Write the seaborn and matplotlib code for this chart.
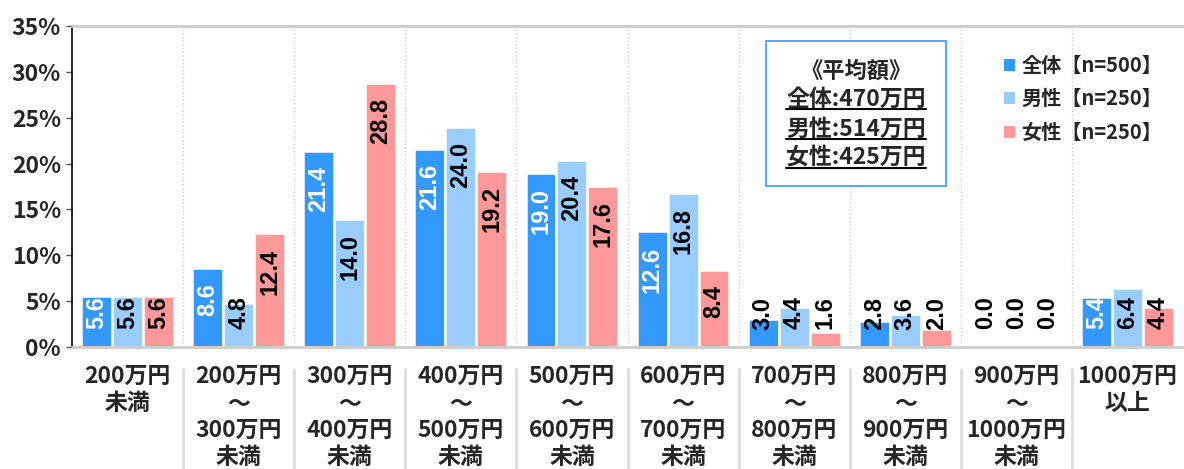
import pandas as pd
import seaborn as sns
import matplotlib.pyplot as plt
from matplotlib.lines import Line2D
from matplotlib.patches import Patch

categories = ['200万円\n未満', '200万円\n～\n300万円\n未満', '300万円\n～\n400万円\n未満',
              '400万円\n～\n500万円\n未満', '500万円\n～\n600万円\n未満', '600万円\n～\n700万円\n未満',
              '700万円\n～\n800万円\n未満', '800万円\n～\n900万円\n未満', '900万円\n～\n1000万円\n未満',
              '1000万円\n以上']
series = ['全体【n=500】', '男性【n=250】', '女性【n=250】']
zentai = [5.6, 8.6, 21.4, 21.6, 19.0, 12.6, 3.0, 2.8, 0.0, 5.4]
dansei = [5.6, 4.8, 14.0, 24.0, 20.4, 16.8, 4.4, 3.6, 0.0, 6.4]
josei = [5.6, 12.4, 28.8, 19.2, 17.6, 8.4, 1.6, 2.0, 0.0, 4.4]
avg_title = '《平均額》'
avg_lines = ['全体:470万円', '男性:514万円', '女性:425万円']
yticks = [0, 5, 10, 15, 20, 25, 30, 35]

colors = ['#3399FF', '#99CCFF', '#FF9999']

df = pd.DataFrame({
    'cat': categories * 3,
    'series': [series[0]] * 10 + [series[1]] * 10 + [series[2]] * 10,
    'value': zentai + dansei + josei,
})

sns.set_style('white')
plt.rcParams['font.family'] = ['Noto Sans CJK JP', 'DejaVu Sans']
num_font = ['Liberation Sans', 'DejaVu Sans']

fig = plt.figure(figsize=(11.84, 4.69), dpi=100)
ax = fig.add_axes([72 / 1184, 1 - 347 / 469, 1 - 72 / 1184 - 1 / 1184, (347 - 26) / 469])

sns.barplot(data=df, x='cat', y='value', hue='series', palette=colors, width=0.835,
            edgecolor='white', linewidth=1.8, saturation=1, legend=False, ax=ax)

ax.set_ylim(0, 35)
ax.set_xlim(-0.5, 9.5)
ax.set_yticks(yticks)
ax.set_yticklabels([f'{t}%' for t in yticks], fontsize=16.5, fontweight='bold')
ax.set_xticks(range(10))
ax.set_xticklabels(categories, fontsize=16.5, fontweight='bold', linespacing=1.22, va='top')
ax.tick_params(axis='x', length=0, pad=13)
ax.tick_params(axis='y', length=4, width=1, color='#555555', left=True, pad=4)
ax.set_xlabel('')
ax.set_ylabel('')

ax.spines['right'].set_visible(False)
ax.spines['left'].set_color('black')
ax.spines['left'].set_linewidth(1.2)
ax.spines['top'].set_color('#cccccc')
ax.spines['top'].set_linewidth(2)
ax.spines['bottom'].set_color('#cccccc')
ax.spines['bottom'].set_linewidth(2)

# dotted separators between categories
for i in range(1, 10):
    ax.axvline(i - 0.5, color='#cccccc', linestyle=':', linewidth=1, zorder=0)
    ax.add_line(Line2D([i - 0.5, i - 0.5], [-0.07, -0.4], transform=ax.get_xaxis_transform(),
                       color='#dddddd', linewidth=2, clip_on=False))

# value labels
for k, cont in enumerate(ax.containers):
    vals = [zentai, dansei, josei][k]
    for bar, v in zip(cont.patches, vals):
        x = bar.get_x() + bar.get_width() / 2
        y = max(v - 1.65, 5.5)
        col = 'white' if (k == 0 and v >= 5) else 'black'
        ax.text(x, y, f'{v:.1f}', rotation=90, ha='center', va='top', fontsize=17,
                family=num_font, fontweight='bold', color=col)

# legend
handles = [Patch(facecolor=c, edgecolor='none') for c in colors]
leg = ax.legend(handles, series, loc='upper left', bbox_to_anchor=(0.832, 0.935), frameon=False,
                prop={'weight': 'bold', 'size': 14.5}, handlelength=0.55, handleheight=0.55,
                handletextpad=0.3, labelspacing=0.62, borderaxespad=0)

# average box
bx0, bx1 = 766 / 1184, 946 / 1184
by0, by1 = 1 - 186 / 469, 1 - 41 / 469
fig.patches.append(plt.Rectangle((bx0, by0), bx1 - bx0, by1 - by0, transform=fig.transFigure,
                                 facecolor='white', edgecolor='#3399FF', linewidth=1.2, zorder=5))
cx = (bx0 + bx1) / 2
fig.text(cx, 1 - 71 / 469, avg_title, ha='center', va='center', fontsize=16,
         fontweight='bold', zorder=6)
texts = []
for j, yc in enumerate([99, 129, 158]):
    t = fig.text(cx, 1 - yc / 469, avg_lines[j], ha='center', va='center', fontsize=16.5,
                 fontweight='bold', zorder=6)
    texts.append(t)

fig.canvas.draw()
r = fig.canvas.get_renderer()
for t, yu in zip(texts, [109, 139, 167.5]):
    bb = t.get_window_extent(r).transformed(fig.transFigure.inverted())
    fig.add_artist(Line2D([bb.x0, bb.x1], [1 - yu / 469] * 2, transform=fig.transFigure,
                          color='black', linewidth=1.5, zorder=7))

fig.savefig('out.png', dpi=100)
